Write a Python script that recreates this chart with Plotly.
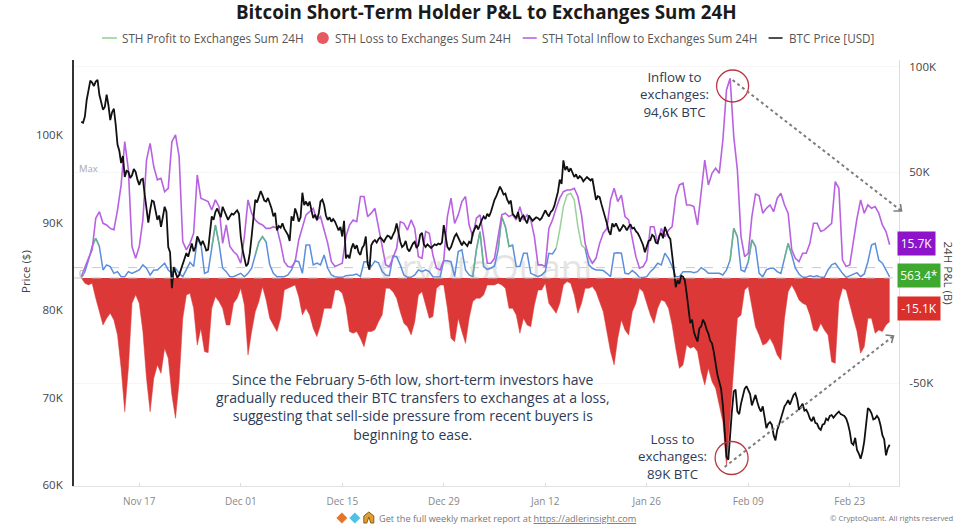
import pandas as pd
import plotly.graph_objects as go

W, H = 975, 524
L, R, T, B = 74, 899.5, 60, 486

# all values (K), price every 6h, the others every 12h
start_date = "2025-11-09 00:00"

price_vals = [
    101.5, 101.4, 102.1, 104.0, 105.1, 106.2, 106.0, 105.6, 106.1, 106.3, 104.6, 103.6, 102.9, 103.2, 104.6, 103.4, 101.7, 102.6, 103.0, 101.2,
    98.9, 98.2, 96.8, 97.6, 95.2, 95.9, 95.8, 95.1, 95.4, 96.1, 95.8, 94.9, 94.3, 94.9, 95.0, 93.2, 91.4, 90.0, 91.4, 92.5,
    92.4, 91.5, 90.3, 90.8, 89.5, 90.6, 91.8, 91.2, 87.2, 86.6, 82.5, 84.9, 84.4, 83.7, 84.0, 84.6, 85.1, 85.9, 86.5, 86.1,
    87.0, 87.6, 86.7, 87.2, 88.4, 88.0, 87.4, 87.9, 87.4, 86.8, 86.9, 89.2, 90.7, 90.3, 91.2, 91.6, 91.0, 90.6, 91.8, 91.3,
    90.7, 90.3, 90.7, 91.0, 90.9, 91.2, 91.4, 91.0, 88.4, 86.9, 86.1, 85.0, 85.3, 86.5, 88.4, 90.6, 92.6, 92.3, 93.1, 93.6,
    93.1, 92.5, 92.4, 92.8, 92.2, 91.6, 90.7, 91.1, 89.1, 89.6, 89.4, 89.9, 89.3, 88.9, 88.6, 87.9, 90.7, 90.2, 91.6, 91.0,
    90.1, 90.6, 93.4, 92.0, 92.4, 91.9, 92.4, 91.4, 90.5, 90.9, 90.3, 91.0, 92.4, 92.6, 92.0, 90.8, 90.3, 90.6, 90.1, 90.4,
    90.1, 89.6, 89.1, 89.5, 88.4, 90.2, 85.9, 86.3, 85.9, 87.0, 87.6, 87.0, 87.4, 86.6, 86.3, 87.1, 87.4, 88.4, 85.3, 84.6,
    87.4, 87.8, 88.0, 87.7, 88.1, 88.3, 88.1, 87.8, 88.2, 88.5, 88.4, 88.1, 88.6, 89.0, 89.9, 88.6, 87.8, 87.2, 87.4, 87.9,
    87.0, 86.7, 87.2, 87.6, 87.8, 87.1, 87.4, 88.6, 88.8, 87.5, 87.2, 87.5, 87.3, 87.1, 87.3, 87.5, 87.4, 87.6, 87.5, 87.7,
    89.7, 88.3, 87.2, 86.9, 87.2, 87.8, 88.4, 88.7, 88.2, 87.7, 87.4, 87.8, 87.5, 87.3, 87.8, 87.6, 88.8, 89.3, 89.7, 89.2,
    89.9, 90.3, 90.7, 90.4, 91.0, 90.7, 91.2, 91.9, 92.6, 93.0, 93.5, 94.1, 93.7, 93.2, 93.3, 92.6, 92.2, 92.5, 91.0, 90.7,
    90.5, 91.2, 90.1, 90.6, 90.8, 90.3, 89.9, 90.8, 90.5, 90.2, 90.4, 90.6, 90.5, 90.3, 90.5, 90.9, 91.4, 91.0, 90.7, 91.2,
    91.4, 91.9, 92.6, 93.5, 94.9, 94.4, 97.1, 96.0, 96.4, 95.8, 96.2, 95.6, 95.2, 95.5, 95.0, 95.3, 95.1, 94.7, 94.9, 95.2,
    95.0, 94.8, 95.0, 94.0, 92.6, 93.0, 92.9, 92.1, 91.4, 90.8, 89.9, 89.0, 88.6, 89.9, 89.5, 89.9, 89.5, 89.0, 89.3, 89.7,
    89.5, 89.1, 89.5, 89.8, 89.3, 89.4, 89.0, 88.8, 88.4, 87.9, 87.4, 86.6, 87.4, 87.9, 88.0, 88.6, 88.4, 87.7, 87.6, 88.5,
    88.8, 88.2, 89.5, 88.9, 88.4, 88.1, 86.5, 84.5, 82.6, 83.4, 83.0, 83.9, 83.8, 83.4, 81.9, 79.9, 78.5, 78.9, 77.5, 76.9,
    76.4, 77.9, 78.1, 78.9, 78.5, 77.8, 77.3, 76.5, 76.2, 75.2, 73.7, 72.6, 71.8, 71.0, 69.1, 66.5, 63.2, 62.9, 66.1, 68.5,
    70.7, 70.9, 68.4, 68.1, 69.3, 70.2, 71.0, 71.3, 70.9, 70.4, 69.1, 69.8, 70.3, 69.5, 68.8, 68.4, 69.0, 67.8, 66.5, 67.0,
    67.2, 66.9, 65.7, 65.1, 66.3, 66.9, 67.6, 68.5, 69.0, 69.3, 69.7, 69.2, 69.7, 70.3, 70.5, 69.8, 68.6, 69.0, 69.3, 68.5,
    68.6, 68.2, 67.6, 67.3, 67.8, 67.1, 67.0, 66.5, 66.3, 66.9, 67.0, 67.6, 67.4, 67.9, 68.0, 67.7, 68.0, 68.2, 68.4, 68.1,
    68.0, 67.9, 67.6, 67.0, 66.1, 64.8, 64.6, 65.4, 64.0, 63.6, 63.0, 63.8, 65.0, 66.7, 68.8, 68.6, 68.2, 67.5, 67.6, 67.9,
    67.6, 66.8, 65.7, 65.2, 63.4, 64.2, 64.6,
]

inflow_vals = [
    0.6, 5.4, 9.3, 13.3, 28.3, 31.4, 25.9, 25.1, 23.5, 22.8,
    32.2, 44.1, 64.6, 51.2, 14.9, 9.3, 14.9, 27.5, 55.9, 63.8,
    52.8, 46.5, 47.2, 40.9, 42.5, 64.6, 67.8, 57.5, 17.2, 13.3,
    16.4, 21.2, 48.8, 37.8, 37.0, 36.2, 32.2, 37.0, 33.8, 16.4,
    25.1, 14.9, 12.5, 10.9, 7.0, 19.6, 37.0, 30.7, 27.5, 25.9,
    25.1, 23.5, 23.5, 24.3, 23.5, 16.4, 7.7, 5.4, 5.1, 7.7,
    18.0, 24.3, 29.9, 31.4, 33.0, 27.5, 29.1, 22.7, 16.4, 7.7,
    5.4, 6.2, 7.0, 19.6, 25.1, 27.5, 26.7, 38.6, 38.6, 29.1,
    30.7, 33.0, 24.3, 15.6, 6.2, 5.4, 10.1, 14.0, 26.7, 25.9,
    22.7, 27.5, 23.5, 10.1, 9.3, 22.0, 21.2, 10.9, 4.6, 3.8,
    8.5, 29.1, 37.8, 25.9, 29.9, 36.2, 38.6, 25.1, 19.6, 28.3,
    29.9, 19.6, 7.0, 7.0, 9.3, 19.6, 29.9, 30.7, 29.1, 29.9,
    27.5, 33.8, 27.5, 29.9, 27.5, 19.6, 6.2, 6.2, 5.4, 23.5,
    27.5, 33.0, 37.8, 40.9, 41.7, 41.7, 42.5, 38.6, 29.9, 16.4,
    10.1, 7.0, 9.3, 16.4, 21.2, 23.5, 37.0, 42.5, 36.2, 39.3,
    29.1, 27.5, 18.8, 10.1, 4.6, 5.4, 8.5, 24.3, 24.3, 16.4,
    23.5, 19.6, 22.7, 24.3, 38.6, 44.1, 44.9, 34.6, 34.6, 33.8,
    25.1, 40.1, 55.9, 44.1, 49.6, 52.0, 49.6, 65.4, 89.1, 94.6,
    67.0, 51.2, 19.6, 10.1, 11.7, 29.1, 39.8, 38.9, 30.7, 33.0,
    34.6, 31.4, 37.8, 40.1, 34.6, 30.7, 13.3, 9.3, 7.7, 11.7,
    11.7, 16.4, 25.9, 25.9, 22.0, 22.8, 24.3, 25.9, 45.7, 42.5,
    8.5, 5.4, 6.2, 18.0, 28.3, 37.0, 30.7, 34.6, 33.0, 33.8,
    30.7, 25.1, 22.0, 15.7,
]

# blue line under the inflow, no legend entry in the original
blue_vals = [
    0.0, 3.0, 8.5, 14.9, 18.8, 14.9, 3.8, 6.2, 5.4, 2.2,
    3.0, 0.6, 0.6, 3.0, 2.2, 3.0, 3.8, 6.2, 4.6, 1.4,
    3.8, 3.8, 5.4, 7.0, 3.8, 2.2, 4.6, 2.2, 0.6, 3.8,
    7.4, 5.4, 18.0, 16.4, 2.2, 3.0, 14.9, 25.1, 16.4, 4.6,
    3.0, 0.6, 0.6, 1.4, 2.2, 0.6, 2.2, 4.6, 11.0, 17.0,
    19.6, 17.0, 6.2, 2.2, 0.6, 0.5, 0.6, 1.4, 3.8, 8.2,
    7.7, 2.2, 15.6, 15.6, 6.2, 7.0, 6.2, 10.9, 4.6, 1.4,
    0.6, 0.3, 0.3, 1.1, 1.1, 1.4, 1.9, 0.6, 7.7, 7.7,
    5.4, 8.0, 7.2, 3.0, 1.4, 1.1, 10.4, 10.1, 6.2, 1.4,
    0.3, 0.3, 1.4, 3.8, 3.0, 3.8, 3.0, 0.6, 0.5, 0.5,
    8.2, 8.2, 7.7, 0.6, 12.5, 13.3, 3.8, 1.4, 0.6, 13.3,
    22.0, 5.4, 4.1, 4.6, 5.7, 13.3, 29.0, 24.3, 14.9, 15.6,
    5.4, 5.4, 11.7, 11.7, 2.2, 1.4, 0.6, 1.4, 3.0, 11.7,
    11.4, 14.0, None, None, None, None, None, None, None, 14.0,
    6.2, 4.6, 3.8, 3.8, 3.5, 2.2, 0.6, 11.7, 12.0, 11.7,
    2.2, 1.9, 3.5, 2.2, 0.2, 0.2, 0.6, 3.0, 4.6, 7.0,
    6.2, 11.7, 9.3, 5.4, 0.6, 0.6, 3.0, 3.0, 3.0, 2.5,
    3.0, 4.9, 3.8, 2.2, 2.2, 1.9, 2.2, 1.4, 3.8, 8.5,
    23.5, 19.6, 3.8, 3.0, 7.7, 18.0, 14.9, 2.2, 0.6, 3.8,
    4.6, 4.6, 3.0, 2.2, 9.3, 16.4, 10.9, 4.6, 1.9, 0.3,
    0.3, 1.0, 0.6, 1.0, 0.3, 0.3, 3.8, 6.2, 7.0, 4.4,
    2.2, 0.3, 1.0, 1.9, 2.5, 0.6, 1.9, 7.7, 15.6, 16.4,
    8.5, 7.0, 3.8, 0.56,
]

# profit only shows where it climbs away from the blue line
N = None
profit_vals = [
    N, N, N, 14.9, 18.8, 14.9, N, N, N, N,
    N, N, N, N, N, N, N, N, N, N,
    N, N, N, N, N, N, N, N, N, N,
    N, N, N, N, N, N, 14.9, 25.1, 16.4, N,
    N, N, N, N, N, N, N, N, 11.0, 17.0,
    19.6, 17.0, N, N, N, N, N, N, N, N,
    N, N, N, N, N, N, N, N, N, N,
    N, N, N, N, N, N, N, N, N, N,
    N, N, N, N, N, N, N, N, N, N,
    N, N, N, N, N, N, N, N, N, N,
    N, N, N, N, N, N, N, N, 0.6, 13.3,
    22.0, 5.4, N, N, N, 13.3, 29.0, 24.3, 14.9, 15.6,
    N, N, N, N, N, N, N, N, N, N,
    N, 14.0, 22.8, 33.8, 39.3, 40.1, 37.0, 24.3, 15.6, 14.0,
    N, N, N, N, N, N, N, N, N, N,
    N, N, N, N, N, N, N, N, N, N,
    N, N, N, N, N, N, N, N, N, N,
    N, N, N, N, N, N, N, N, N, 8.5,
    23.5, 19.6, N, N, 7.7, 18.0, 14.9, N, N, N,
    N, N, N, N, 9.3, 16.4, 10.9, N, N, N,
    N, N, N, N, N, N, N, N, N, N,
    N, N, N, N, N, N, N, N, N, N,
    N, N, N, N,
]

loss_vals = [
    0.0, -2.5, -3.3, -2.5, -9.6, -16.7, -22.3, -19.1, -16.7, -19.9,
    -27.0, -42.8, -63.4, -42.8, -12.0, -8.0, -12.0, -25.4, -47.6, -63.4,
    -47.6, -41.2, -45.2, -33.3, -38.1, -55.5, -66.5, -49.1, -19.1, -8.1,
    -7.3, -14.4, -31.8, -23.9, -34.9, -35.4, -14.4, -8.9, -11.2, -14.4,
    -22.3, -22.3, -12.0, -9.6, -4.9, -12.8, -36.5, -25.4, -16.0, -11.2,
    -4.1, -10.4, -19.1, -22.3, -25.4, -19.1, -5.7, -4.9, -4.1, -3.3,
    -8.9, -17.5, -14.4, -17.5, -23.9, -27.8, -22.3, -14.4, -14.4, -14.4,
    -5.7, -5.7, -7.3, -13.6, -25.4, -26.2, -25.4, -28.6, -32.6, -25.4,
    -25.4, -24.6, -20.7, -17.5, -4.9, -4.9, -6.5, -9.6, -16.0, -21.5,
    -23.1, -27.0, -20.7, -8.1, -6.5, -12.8, -19.1, -18.3, -4.9, -3.3,
    -3.3, -14.4, -28.6, -30.2, -19.1, -25.4, -31.0, -19.1, -11.2, -9.6,
    -9.6, -8.1, -3.3, -3.3, -3.3, -2.5, -3.3, -4.9, -14.4, -14.4,
    -17.5, -26.2, -19.1, -22.3, -23.1, -12.8, -5.7, -5.7, -2.5, -12.0,
    -14.4, -16.7, -12.0, -3.3, -1.7, -2.5, -8.1, -16.7, -12.0, -4.9,
    -4.9, -4.1, -6.5, -11.2, -16.0, -25.4, -34.9, -41.2, -28.6, -19.9,
    -24.7, -27.0, -16.0, -12.0, -4.9, -6.5, -12.0, -17.5, -21.5, -14.4,
    -10.4, -11.2, -14.4, -22.3, -33.3, -42.8, -41.2, -31.8, -33.3, -32.6,
    -34.9, -44.4, -50.7, -42.8, -49.1, -52.3, -60.2, -68.1, -89.0, -66.5,
    -46.0, -19.1, -17.5, -5.7, -4.1, -14.4, -23.1, -27.0, -31.8, -31.0,
    -28.6, -31.8, -36.5, -38.9, -19.1, -6.5, -3.3, -6.5, -10.4, -12.0,
    -12.8, -17.5, -24.7, -25.4, -21.5, -24.7, -27.0, -39.7, -40.4, -11.2,
    -4.9, -5.7, -12.8, -19.1, -25.4, -35.7, -32.6, -19.1, -19.1, -26.2,
    -24.7, -25.4, -22.3, -20.7,
]

x_tick_dates = ["2025-11-17", "2025-12-01", "2025-12-15", "2025-12-29",
                "2026-01-12", "2026-01-26", "2026-02-09", "2026-02-23"]
x_tick_labels = ["Nov 17", "Dec 01", "Dec 15", "Dec 29", "Jan 12", "Jan 26", "Feb 09", "Feb 23"]
price_ticks = [60, 70, 80, 90, 100]
price_labels = ["60K", "70K", "80K", "90K", "100K"]
pnl_ticks = [-50, 50, 100]
pnl_labels = ["-50K", "50K", "100K"]

for s in (blue_vals, profit_vals, loss_vals):
    assert len(s) == len(inflow_vals), len(s)
assert len(price_vals) == 2 * len(inflow_vals) - 1, len(price_vals)

dates = pd.date_range(start_date, periods=len(inflow_vals), freq="12h")
price_dates = pd.date_range(start_date, periods=len(price_vals), freq="6h")

TEXT_FONT = "Open Sans"
INK = "#2c3b57"


def px(x):
    return (x - L) / (R - L)


def py(y):
    return (B - y) / (B - T)


fig = go.Figure()

# watermark goes first so the red area covers its lower half
fig.add_trace(go.Scatter(x=[dates[112]], y=[3], mode="text", text=["CryptoQuant"],
                         textfont=dict(size=36, color="#e4e4e4", family=TEXT_FONT), hoverinfo="skip"))
fig.add_trace(go.Scatter(x=dates, y=loss_vals, mode="lines", fill="tozeroy", fillcolor="#dd3838",
                         name="STH Loss to Exchanges Sum 24H", line=dict(color="#dd3838", width=0.5)))
fig.add_trace(go.Scatter(x=dates, y=blue_vals, mode="lines", line=dict(color="#5b8edb", width=1.5)))
fig.add_trace(go.Scatter(x=dates, y=profit_vals, mode="lines", name="STH Profit to Exchanges Sum 24H",
                         line=dict(color="#6cc06c", width=1.5), opacity=0.7))
fig.add_trace(go.Scatter(x=dates, y=inflow_vals, mode="lines", name="STH Total Inflow to Exchanges Sum 24H",
                         line=dict(color="#b862e2", width=1.6)))
fig.add_trace(go.Scatter(x=price_dates, y=price_vals, mode="lines", name="BTC Price [USD]", yaxis="y2",
                         line=dict(color="#111111", width=1.8)))

shapes = []
for v, lay in ((50, "below"), (4.9, "below"), (0, "above")):
    shapes.append(dict(type="line", xref="paper", yref="y", x0=0, x1=1, y0=v, y1=v, layer=lay,
                       line=dict(color="#c9c9c9", width=1, dash="dash")))

# circles and dotted arrows
for cx, cy, r in ((733, 86, 16), (732, 458, 16.5)):
    shapes.append(dict(type="circle", xref="paper", yref="paper", x0=px(cx - r), x1=px(cx + r),
                       y0=py(cy + r), y1=py(cy - r), line=dict(color="#bb3542", width=1.3)))
for x0, y0, x1, y1, head in ((733, 80, 902, 211, ((894, 211), (902, 211), (901, 204))),
                             (725, 467, 894, 336, ((886, 335), (894, 336), (892, 343)))):
    shapes.append(dict(type="line", xref="paper", yref="paper", x0=px(x0), y0=py(y0), x1=px(x1), y1=py(y1),
                       line=dict(color="#7d7d7d", width=2, dash="dot")))
    path = "M " + " L ".join(f"{px(a):.4f},{py(b):.4f}" for a, b in head)
    shapes.append(dict(type="path", xref="paper", yref="paper", path=path,
                       line=dict(color="#7d7d7d", width=1.6)))

# footer diamonds
for cx, col in ((342, "#e8742a"), (355, "#4cc3e6")):
    path = f"M {px(cx - 5.5):.4f},{py(518):.4f} L {px(cx):.4f},{py(512.5):.4f} L {px(cx + 5.5):.4f},{py(518):.4f} L {px(cx):.4f},{py(523.5):.4f} Z"
    shapes.append(dict(type="path", xref="paper", yref="paper", path=path, fillcolor=col, line=dict(width=0)))
shapes.append(dict(type="path", xref="paper", yref="paper", fillcolor="#e0a030", line=dict(color="#8a5a20", width=1),
                   path=f"M {px(364):.4f},{py(523):.4f} L {px(364):.4f},{py(516):.4f} L {px(369):.4f},{py(512):.4f} "
                        f"L {px(374):.4f},{py(516):.4f} L {px(374):.4f},{py(523):.4f} L {px(371):.4f},{py(523):.4f} "
                        f"L {px(369):.4f},{py(517):.4f} L {px(367):.4f},{py(523):.4f} Z"))

# legend drawn by hand, plotly's own spacing is too wide for this row
for x0, x1, col, wid in ((102, 117, "#8fd28f", 1.5), (523, 537, "#b862e2", 1.6), (769, 783, "#222222", 1.6)):
    shapes.append(dict(type="line", xref="paper", yref="paper", x0=px(x0), x1=px(x1), y0=py(38), y1=py(38),
                       line=dict(color=col, width=wid)))
shapes.append(dict(type="circle", xref="paper", yref="paper", x0=px(317), x1=px(329), y0=py(44), y1=py(32),
                   fillcolor="#e8595f", line=dict(width=0)))


def note(x, y, text, size=13.5, color=INK, anchor="center", **kw):
    return dict(xref="paper", yref="paper", x=px(x), y=py(y), xanchor=anchor, yanchor="middle",
                text=text, showarrow=False, font=dict(size=size, color=color, family=TEXT_FONT), **kw)


annotations = [
    note(487, 12, "<b>Bitcoin Short-Term Holder P&L to Exchanges Sum 24H</b>", size=18.8, color="#1b1b1b"),
    note(120, 38, "STH Profit to Exchanges Sum 24H", size=11.7, color="#555555", anchor="left"),
    note(333, 38, "STH Loss to Exchanges Sum 24H", size=11.7, color="#555555", anchor="left"),
    note(540, 38, "STH Total Inflow to Exchanges Sum 24H", size=11.7, color="#555555", anchor="left"),
    note(787, 38, "BTC Price [USD]", size=11.7, color="#555555", anchor="left"),
    note(675, 95, "Inflow to<br>exchanges:<br>94,6K BTC", size=13.3),
    note(673, 456, "Loss to<br>exchanges:<br>89K BTC", size=13.3),
    note(413, 407, "Since the February 5-6th low, short-term investors have<br>"
                   "gradually reduced their BTC transfers to exchanges at a loss,<br>"
                   "suggesting that sell-side pressure from recent buyers is<br>"
                   "beginning to ease.", size=14),
    note(25, 272, "Price ($)", size=11.5, color="#444444", textangle=-90),
    note(950, 273, "24H P&L (B)", size=11.5, color="#444444", textangle=90),
    note(89, 168, "Max", size=9.5, color="#a8a8a8"),
    note(82, 273, "0", size=9.5, color="#a8a8a8"),
    note(508, 518, "Get the full weekly market report at <u>https://adlerinsight.com</u>", size=9.2, color="#777777"),
    note(892, 518, "© CryptoQuant. All rights reserved", size=7.7, color="#777777"),
    note(917.5, 243.5, "15.7K", size=12, color="#ffffff", bgcolor="#8d14c9", width=35, height=21),
    note(920, 275.5, "563.4*", size=12, color="#ffffff", bgcolor="#3fa92f", width=40, height=21),
    note(920, 308.5, "-15.1K", size=12, color="#ffffff", bgcolor="#da2f2b", width=40, height=21),
]

fig.update_layout(
    width=W, height=H, autosize=False,
    margin=dict(l=L, r=W - R, t=T, b=H - B),
    paper_bgcolor="white", plot_bgcolor="white",
    font=dict(family=TEXT_FONT, size=11.5, color="#555555"),
    showlegend=False,
    xaxis=dict(range=["2025-11-08 00:00", "2026-03-01 19:00"], tickvals=x_tick_dates, ticktext=x_tick_labels,
               tickfont=dict(size=10, color="#888888"), showgrid=False, zeroline=False, ticklabelstandoff=6,
               showline=True, linecolor="#e2e2e2", ticks="inside", ticklen=3, tickcolor="#dddddd"),
    yaxis=dict(range=[-98.6, 103.3], side="right", tickvals=pnl_ticks, ticktext=pnl_labels, ticklabelstandoff=7,
               tickfont=dict(size=11.5, color="#444444"), showgrid=True, gridcolor="#f6f6f6", zeroline=False,
               showline=True, linecolor="#dcdce4", ticks=""),
    yaxis2=dict(range=[59.89, 108.57], overlaying="y", side="left", tickvals=price_ticks, ticktext=price_labels,
                ticklabelstandoff=7, tickfont=dict(size=11.5, color="#444444"), showgrid=False, zeroline=False,
                showline=True, linecolor="#333333", linewidth=2, ticks=""),
    shapes=shapes,
    annotations=annotations,
)

fig.write_html("out.html", config=dict(displayModeBar=False), post_script="document.body.style.margin='0';")
